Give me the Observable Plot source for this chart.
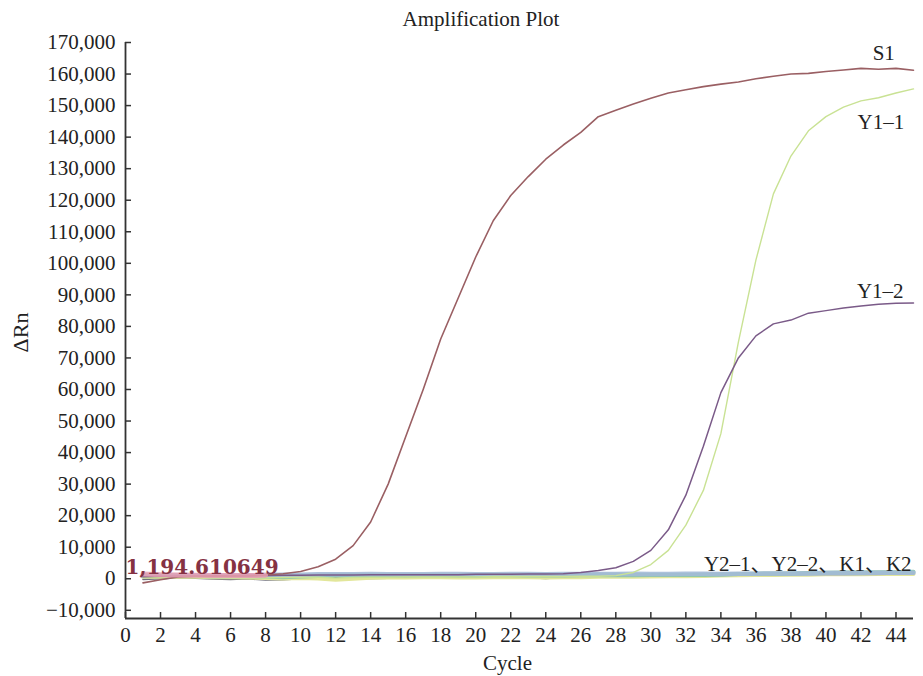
<!DOCTYPE html>
<html><head><meta charset="utf-8">
<script src="https://cdn.jsdelivr.net/npm/d3@7"></script>
<script src="https://cdn.jsdelivr.net/npm/@observablehq/plot@0.6"></script>
<style>
body{margin:0;background:#fff;}
#wrap{position:relative;width:923px;height:676px;overflow:hidden;font-family:"Liberation Serif","Times New Roman",serif;}
#title{position:absolute;left:0;top:7px;width:962px;text-align:center;font-size:21px;color:#222;line-height:24px;}
#wrap svg{position:absolute;left:0;top:0;}
</style></head><body><div id="wrap"><div id="title">Amplification Plot</div></div>
<script>
const cycles = d3.range(1, 46);
const xTicks = d3.range(0, 45, 2);
const yTicks = d3.range(-10000, 170001, 10000);
const yMin = -12600, yMax = 170000;
const threshold = 1194.610649;

const s1 = [-1300,-300,600,800,900,900,1000,1200,1600,2300,3800,6200,10500,18000,30000,45000,60000,76000,89000,102000,113500,121500,127500,133000,137500,141500,146500,148500,150500,152300,154000,155000,156000,156800,157500,158500,159300,160000,160200,160800,161300,161800,161500,161800,161200];
const y11 = [400,500,500,500,400,500,500,300,400,500,500,200,400,500,500,600,600,600,600,600,700,700,700,700,700,800,800,1000,2000,4500,9000,17000,28000,46000,75000,101000,122000,134000,142000,146500,149500,151500,152500,154000,155300];
const y12 = [600,800,900,900,800,800,900,1000,1100,1100,1200,1200,1200,1300,1300,1300,1300,1300,1300,1400,1400,1400,1500,1500,1600,2000,2600,3500,5500,9000,15500,26500,42000,59000,70000,77000,80800,82000,84200,85000,85800,86500,87000,87300,87400];
const y21 = [900,1000,1100,1100,1000,1000,1100,1200,1300,1300,1400,1400,1400,1500,1400,1400,1400,1500,1500,1400,1400,1500,1500,1400,1500,1500,1500,1500,1600,1500,1500,1600,1600,1500,1600,1600,1700,1700,1700,1800,1800,1800,1900,1900,1900];
const y22 = [1200,1100,1000,900,800,800,900,700,500,700,900,1000,1100,1100,1000,1000,1100,1100,1000,1000,1100,1100,1000,1000,1000,1100,1100,1100,1100,1200,1200,1200,1200,1300,1500,1600,1700,1700,1800,1900,2000,2000,2100,2100,2200];
const k1 = [600,600,700,600,500,500,400,200,100,200,100,-300,0,300,400,400,500,500,400,400,500,500,500,400,500,500,600,600,600,700,800,800,900,1000,1100,1200,1200,1300,1300,1400,1400,1400,1500,1500,1500];
const k2 = [800,900,900,800,700,800,900,1000,1000,1100,1100,1200,1200,1200,1200,1300,1300,1200,1200,1300,1300,1300,1300,1300,1300,1300,1400,1400,1300,1300,1300,1300,1400,1400,1400,1500,1500,1500,1600,1600,1600,1700,1700,1800,1800];
const nc = [-200,0,300,200,-100,-200,0,-400,-300,0,200,300,200,100,200,300,300,200,200,300,300,400,300,100,400,500,600,600,600,700,800,800,700,900,1000,1100,1200,1300,1400,1500,1600,1700,1800,1900,2200];
const pinkBand = [1500,1300,1200,1100,1000,1000,1000,1100];

const labelTexts = ["S1", "Y1–1", "Y1–2"];
const labelX = [43.3, 43.14, 43.1];
const labelY = [164600, 142700, 89100];
const groupLabel = "Y2–1、Y2–2、K1、K2";
const groupX = 33.03, groupY = 2500;

function rows(vals) { return vals.map((v, i) => ({cycle: cycles[i], value: v})); }

const font = "'Liberation Serif','Times New Roman',serif";
const chart = Plot.plot({
  width: 923, height: 676,
  marginLeft: 125, marginRight: 10, marginTop: 42, marginBottom: 58,
  style: {fontFamily: font, fontSize: "21px", color: "#222", background: "transparent", overflow: "visible"},
  x: {domain: [0, 45], axis: null},
  y: {domain: [yMin, yMax], axis: null},
  marks: [
    Plot.line(rows(nc), {x: "cycle", y: "value", stroke: "#3d3d50", strokeWidth: 1.6, strokeOpacity: 0.75}),
    Plot.line(rows(k1), {x: "cycle", y: "value", stroke: "#e2e69a", strokeWidth: 4}),
    Plot.line(rows(k2), {x: "cycle", y: "value", stroke: "#aab4bc", strokeWidth: 3.5}),
    Plot.line(rows(y22), {x: "cycle", y: "value", stroke: "#8fc8ab", strokeWidth: 4}),
    Plot.line(rows(y21), {x: "cycle", y: "value", stroke: "#a3bad6", strokeWidth: 4.5, strokeOpacity: 0.9}),
    Plot.line(rows(y11), {x: "cycle", y: "value", stroke: "#c9e294", strokeWidth: 1.4}),
    Plot.line(rows(y12), {x: "cycle", y: "value", stroke: "#7a5a88", strokeWidth: 1.5}),
    Plot.line(rows(s1), {x: "cycle", y: "value", stroke: "#9a5f63", strokeWidth: 1.6}),
    Plot.line(rows(pinkBand), {x: "cycle", y: "value", stroke: "#e79fb3", strokeWidth: 5, strokeOpacity: 0.85}),
    Plot.ruleX([0], {stroke: "#333", strokeWidth: 1.8}),
    Plot.ruleY([yMin], {stroke: "#333", strokeWidth: 1.8}),
    Plot.axisY({anchor: "left", ticks: yTicks, tickSize: 6, dx: 6, tickFormat: () => "", label: null, stroke: "#333", strokeWidth: 1.5}),
    Plot.axisY({anchor: "left", ticks: yTicks, tickSize: 0, tickPadding: 10, tickFormat: d3.format(","), label: null, fill: "#222"}),
    Plot.axisX({anchor: "bottom", ticks: xTicks, tickSize: 6, dy: -6, tickFormat: () => "", label: null, stroke: "#333", strokeWidth: 1.5}),
    Plot.axisX({anchor: "bottom", ticks: xTicks, tickSize: 0, tickPadding: 9, label: null, fill: "#222"}),
    Plot.text([threshold], {y: d => d, frameAnchor: "left", textAnchor: "start", lineAnchor: "bottom", dy: -1,
      text: d => d3.format(",.6f")(d), fontFamily: "DejaVu Serif", fontWeight: "bold", fontSize: 20, fill: "#853243"}),
    Plot.text(labelTexts, {x: (d, i) => labelX[i], y: (d, i) => labelY[i], text: d => d, textAnchor: "middle", lineAnchor: "bottom", fill: "#222"}),
    Plot.text([groupLabel], {x: () => groupX, y: () => groupY, text: d => d, textAnchor: "start", lineAnchor: "bottom", fill: "#222",
      fontFamily: "'Liberation Serif','Noto Sans CJK SC',serif"}),
    Plot.text(["ΔRn"], {frameAnchor: "left", text: d => d, rotate: -90, dx: -98, dy: 2, textAnchor: "middle", lineAnchor: "bottom", fontSize: 22, fill: "#222"}),
    Plot.text(["Cycle"], {frameAnchor: "bottom", text: d => d, dx: -12, dy: 51, textAnchor: "middle", lineAnchor: "bottom", fontSize: 21, fill: "#222"})
  ]
});
document.getElementById("wrap").appendChild(chart);
</script>
</body></html>
